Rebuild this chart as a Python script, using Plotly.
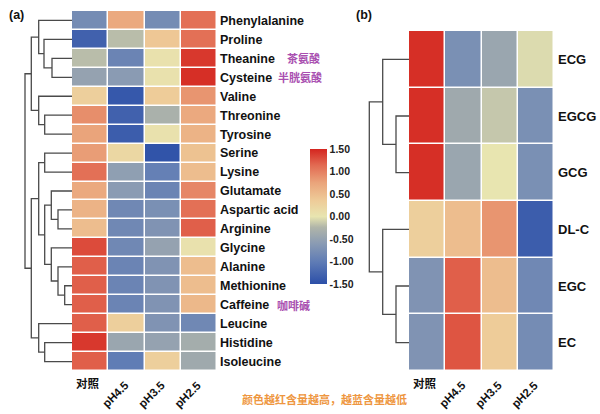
import plotly.graph_objects as go

# ---------------- data ----------------
conditions = ["对照", "pH4.5", "pH3.5", "pH2.5"]

amino_acids = ["Phenylalanine", "Proline", "Theanine", "Cysteine", "Valine", "Threonine",
               "Tyrosine", "Serine", "Lysine", "Glutamate", "Aspartic acid", "Arginine",
               "Glycine", "Alanine", "Methionine", "Caffeine", "Leucine", "Histidine",
               "Isoleucine"]
amino_values = [
    [-0.80, 0.70, -0.80, 1.10],
    [-1.30, -0.20, 0.40, 1.10],
    [-0.20, -0.90, 0.05, 1.40],
    [-0.50, -0.60, 0.05, 1.45],
    [0.30, -1.40, 0.35, 0.85],
    [0.90, -1.30, -0.30, 0.70],
    [0.75, -1.35, 0.05, 0.60],
    [0.80, 0.20, -1.45, 0.45],
    [1.10, -0.55, -0.95, 0.50],
    [0.70, -0.60, -0.90, 0.95],
    [0.60, -0.85, -0.75, 1.10],
    [0.50, -0.85, -0.70, 1.20],
    [1.30, -0.85, -0.50, 0.05],
    [1.20, -0.90, -0.70, 0.50],
    [1.20, -0.90, -0.70, 0.50],
    [1.20, -0.90, -0.70, 0.55],
    [1.20, 0.30, -0.70, -0.85],
    [1.40, -0.45, -0.50, -0.35],
    [1.20, -1.00, 0.30, -0.40],
]

catechins = ["ECG", "EGCG", "GCG", "DL-C", "EGC", "EC"]
catechin_values = [
    [1.45, -0.75, -0.45, -0.05],
    [1.45, -0.40, -0.15, -0.75],
    [1.45, -0.45, 0.00, -0.75],
    [0.30, 0.50, 0.85, -1.35],
    [-0.70, 1.20, 0.50, -0.85],
    [-0.70, 1.25, 0.35, -0.80],
]

# hierarchical clustering merges: (left node, right node, height); new nodes numbered after leaves
amino_linkage = [
    (2, 3, 20.0), (1, 19, 28.0), (0, 20, 33.3), (5, 6, 27.3), (4, 22, 33.3),
    (21, 23, 40.7), (7, 8, 27.3), (10, 11, 14.0), (9, 26, 20.7), (14, 15, 7.3),
    (13, 28, 14.0), (12, 29, 20.7), (27, 30, 27.3), (25, 31, 33.3), (17, 18, 27.3),
    (16, 33, 33.3), (32, 34, 40.7), (24, 35, 47.0),
]
catechin_linkage = [
    (1, 2, 13.0), (0, 6, 26.3), (4, 5, 13.0), (3, 8, 26.3), (7, 9, 39.7),
]

cn_notes = {"Theanine": "茶氨酸", "Cysteine": "半胱氨酸", "Caffeine": "咖啡碱"}
colorbar_ticks = [1.5, 1.0, 0.5, 0.0, -0.5, -1.0, -1.5]
caption = "颜色越红含量越高，越蓝含量越低"

# ---------------- styling ----------------
W, H = 600, 414
LAT = "Liberation Sans, Arial, sans-serif"
CJK = "Noto Sans CJK SC, sans-serif"
colorscale = [
    [0.0, "#2C4FA8"], [0.16, "#5E7BB5"], [0.30, "#8A9BB3"], [0.42, "#B0B5A9"],
    [0.50, "#E8E5B0"], [0.62, "#EECB98"], [0.75, "#EAA47B"], [0.88, "#E26A52"],
    [1.0, "#D4251F"],
]
LINE = dict(color="#4a4a4a", width=1.3)


def px_x(p):
    return p / W


def px_y(p):
    return 1 - p / H


def dendro_segments(n_leaves, linkage):
    pos = {i: float(i) for i in range(n_leaves)}
    hgt = {i: 0.0 for i in range(n_leaves)}
    xs, ys = [], []
    for k, (a, b, h) in enumerate(linkage):
        node = n_leaves + k
        ya, yb = pos[a], pos[b]
        xs += [hgt[a], h, h, hgt[b], None]
        ys += [ya, ya, yb, yb, None]
        pos[node] = (ya + yb) / 2
        hgt[node] = h
    return xs, ys


fig = go.Figure()

# left heatmap
fig.add_trace(go.Heatmap(
    z=amino_values, x=list(range(len(conditions))), y=list(range(len(amino_acids))),
    zmin=-1.5, zmax=1.5, colorscale=colorscale, xgap=1.5, ygap=1.5,
    xaxis="x", yaxis="y", hoverinfo="skip",
    colorbar=dict(
        x=px_x(310), xanchor="left", y=px_y(216.5), yanchor="middle",
        len=135 / H, lenmode="fraction", thickness=17, xpad=0, ypad=0,
        outlinewidth=0, tickvals=colorbar_ticks,
        ticktext=[f"{v:.2f}" for v in colorbar_ticks], ticks="",
        tickfont=dict(family=LAT, size=10.5, color="#222", weight="bold"),
    ),
))
# right heatmap
fig.add_trace(go.Heatmap(
    z=catechin_values, x=list(range(len(conditions))), y=list(range(len(catechins))),
    zmin=-1.5, zmax=1.5, colorscale=colorscale, xgap=1.5, ygap=1.5,
    showscale=False, xaxis="x3", yaxis="y3", hoverinfo="skip",
))

# dendrograms
dx, dy = dendro_segments(len(amino_acids), amino_linkage)
fig.add_trace(go.Scatter(x=dx, y=dy, mode="lines", line=LINE, xaxis="x2", yaxis="y2",
                         hoverinfo="skip", showlegend=False))
dx, dy = dendro_segments(len(catechins), catechin_linkage)
fig.add_trace(go.Scatter(x=dx, y=dy, mode="lines", line=LINE, xaxis="x4", yaxis="y4",
                         hoverinfo="skip", showlegend=False))

left_ydom = [px_y(371), px_y(11)]
right_ydom = [px_y(371), px_y(31)]
hidden = dict(showgrid=False, zeroline=False, showticklabels=False, ticks="", showline=False)
tickfont = dict(family=LAT, size=12.5, color="#111", weight="bold")

fig.update_layout(
    width=W, height=H, margin=dict(l=0, r=0, t=0, b=0),
    paper_bgcolor="white", plot_bgcolor="white", showlegend=False,
    xaxis=dict(domain=[px_x(72), px_x(217)], range=[-0.5, 3.5], anchor="y", **hidden),
    yaxis=dict(domain=left_ydom, range=[len(amino_acids) - 0.5, -0.5], anchor="x",
               side="right", tickvals=list(range(len(amino_acids))), ticktext=amino_acids,
               tickfont=tickfont, showgrid=False, zeroline=False, ticks="", ticklabelstandoff=2),
    xaxis2=dict(domain=[px_x(24), px_x(72)], range=[48, 0], anchor="y2", **hidden),
    yaxis2=dict(domain=left_ydom, range=[len(amino_acids) - 0.5, -0.5], anchor="x2", **hidden),
    xaxis3=dict(domain=[px_x(409), px_x(554)], range=[-0.5, 3.5], anchor="y3", **hidden),
    yaxis3=dict(domain=right_ydom, range=[len(catechins) - 0.5, -0.5], anchor="x3",
                side="right", tickvals=list(range(len(catechins))), ticktext=catechins,
                tickfont=dict(family=LAT, size=13, color="#111", weight="bold"),
                showgrid=False, zeroline=False, ticks="", ticklabelstandoff=3),
    xaxis4=dict(domain=[px_x(368), px_x(409)], range=[41, 0], anchor="y4", **hidden),
    yaxis4=dict(domain=right_ydom, range=[len(catechins) - 0.5, -0.5], anchor="x4", **hidden),
)

ann = []
# panel letters
ann.append(dict(text="<b>(a)</b>", x=px_x(7), y=px_y(15), xref="paper", yref="paper",
                xanchor="left", yanchor="middle", showarrow=False,
                font=dict(family=LAT, size=12.5, color="#111")))
ann.append(dict(text="<b>(b)</b>", x=px_x(354), y=px_y(15), xref="paper", yref="paper",
                xanchor="left", yanchor="middle", showarrow=False,
                font=dict(family=LAT, size=12.5, color="#111")))

# Chinese notes next to row labels
note_x = {"Theanine": 285, "Cysteine": 276, "Caffeine": 275}
for name, note in cn_notes.items():
    ann.append(dict(text=f"<b>{note}</b>", x=px_x(note_x[name]), y=amino_acids.index(name),
                    xref="paper", yref="y", xanchor="left", yanchor="middle",
                    showarrow=False, font=dict(family=CJK, size=11, color="#A94FB0")))

# column labels
for xr in ("x", "x3"):
    for i, c in enumerate(conditions):
        if i == 0:
            ann.append(dict(text=f"<b>{c}</b>", x=i, y=px_y(383), xref=xr, yref="paper",
                            xanchor="center", yanchor="middle", xshift=-2, showarrow=False,
                            font=dict(family=CJK, size=11.5, color="#111")))
        else:
            ann.append(dict(text=f"<b>{c}</b>", x=i, y=px_y(376), xref=xr, yref="paper",
                            xanchor="right", yanchor="top", xshift=8, textangle=-45,
                            showarrow=False, font=dict(family=LAT, size=11.5, color="#111")))

ann.append(dict(text=f"<b>{caption}</b>", x=px_x(324), y=px_y(399), xref="paper",
                yref="paper", xanchor="center", yanchor="middle", showarrow=False,
                font=dict(family=CJK, size=11, color="#EE9640")))

fig.update_layout(annotations=ann)
fig.write_html("out.html", config={"displayModeBar": False},
               post_script="document.body.style.margin='0';")
